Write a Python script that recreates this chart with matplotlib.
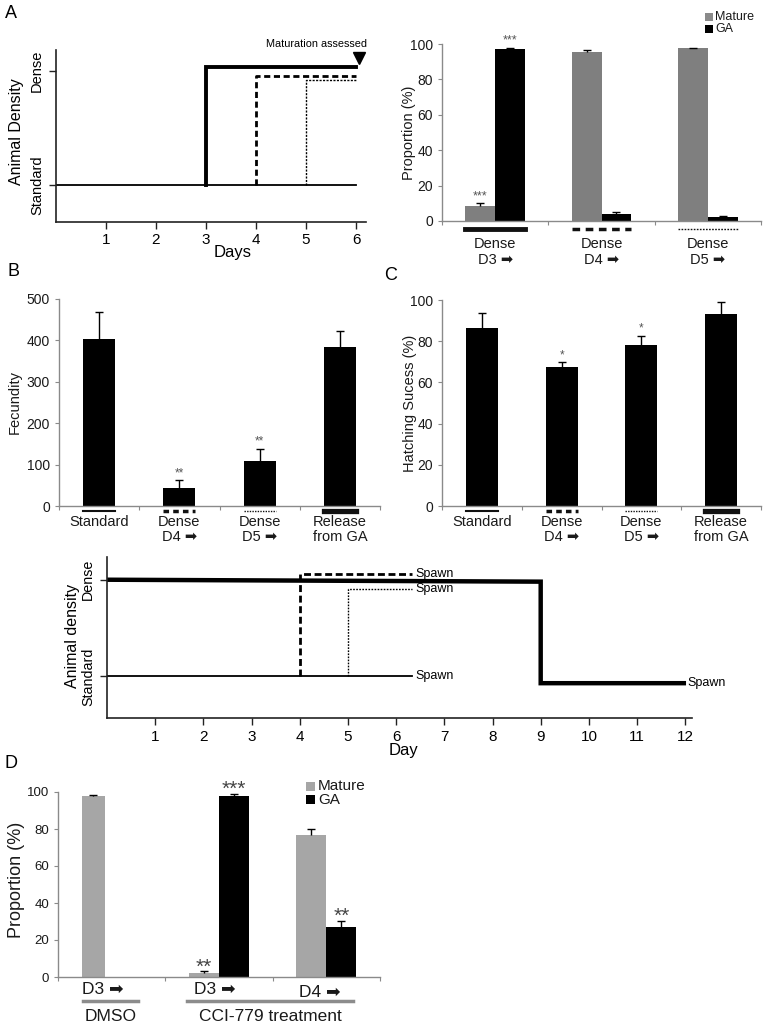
import numpy as np
import matplotlib
matplotlib.use("Agg")
import matplotlib.pyplot as plt
import matplotlib.transforms as mtransforms
from matplotlib.patches import Rectangle
from matplotlib import font_manager

# ---------------- DATA ----------------
# Panel A timeline
a_days = [1, 2, 3, 4, 5, 6]
a_std_x = [0, 6]; a_std_y = [0, 0]
a_d3_x = [3, 3, 6]; a_d3_y = [0, 1.035, 1.035]
a_d4_x = [4, 4, 6]; a_d4_y = [0, 0.95, 0.95]
a_d5_x = [5, 5, 6]; a_d5_y = [0, 0.92, 0.92]

# Panel A bars
a_groups = ["Dense\nD3 \u27a1", "Dense\nD4 \u27a1", "Dense\nD5 \u27a1"]
a_mature = [8.6, 95.6, 97.6]
a_mature_err = [1.4, 0.9, 0.4]
a_ga = [97.0, 4.0, 2.1]
a_ga_err = [1.0, 1.0, 0.7]
a_mature_stars = ["***", "", ""]
a_ga_stars = ["***", "", ""]

# Panel B
bc_groups = ["Standard", "Dense\nD4 \u27a1", "Dense\nD5 \u27a1", "Release\nfrom GA"]
b_fecundity = [403, 44, 109, 383]
b_err = [66, 18, 29, 39]
b_stars = ["", "**", "**", ""]

# Panel C
c_hatch = [86.2, 67.3, 78.1, 93.2]
c_err = [7.3, 2.4, 4.5, 5.8]
c_stars = ["", "*", "*", ""]

# Timeline B/C
t_days = list(range(1, 13))
t_release_x = [0, 9, 9, 11.97]; t_release_y = [1.0, 0.98, -0.07, -0.07]
t_std_x = [0, 6.33]; t_std_y = [0, 0]
t_d4_x = [4, 4, 6.33]; t_d4_y = [0, 1.06, 1.06]
t_d5_x = [5, 5, 6.33]; t_d5_y = [0, 0.9, 0.9]

# Panel D
d_groups = ["D3 \u27a1", "D3 \u27a1", "D4 \u27a1"]
d_mature = [98, 2, 77]
d_mature_err = [0.4, 1.0, 3.0]
d_ga = [0, 98, 27]
d_ga_err = [0, 1.0, 3.2]
d_mature_stars = ["", "**", ""]
d_ga_stars = ["", "***", "**"]

# ---------------- STYLE ----------------
names = {f.name for f in font_manager.fontManager.ttflist}
FONT = ["Liberation Sans", "DejaVu Sans"]
NARROW = ["Liberation Sans Narrow", "Liberation Sans", "DejaVu Sans"] if "Liberation Sans Narrow" in names else FONT
plt.rcParams["font.family"] = FONT

W, H = 766, 1025
fig = plt.figure(figsize=(W / 100, H / 100), dpi=100)

def add_ax(x0, x1, ytop, ybot):
    return fig.add_axes([x0 / W, 1 - ybot / H, (x1 - x0) / W, (ybot - ytop) / H])

def ftext(x, y, s, **kw):
    kw.setdefault("ha", "center"); kw.setdefault("va", "center")
    return fig.text(x / W, 1 - y / H, s, **kw)

def fsquare(x, y, size, color):
    fig.add_artist(Rectangle(((x - size / 2) / W, 1 - (y + size / 2) / H), size / W, size / H,
                             transform=fig.transFigure, color=color, lw=0))

GRAY_SPINE = "#8a8a8a"
TXT = "#1a1a1a"

def style_timeline(ax):
    for s in ["top", "right"]:
        ax.spines[s].set_visible(False)
    for s in ["left", "bottom"]:
        ax.spines[s].set_linewidth(1.2)
        ax.spines[s].set_color("#222")
    ax.tick_params(axis="both", direction="out", length=5, width=1, color="#222")

def style_bar(ax, n):
    for s in ["top", "right"]:
        ax.spines[s].set_visible(False)
    for s in ["left", "bottom"]:
        ax.spines[s].set_color(GRAY_SPINE)
        ax.spines[s].set_linewidth(1)
    ax.set_xlim(-0.5, n - 0.5)
    ax.set_xticks(np.arange(n + 1) - 0.5)
    ax.set_xticklabels([])
    ax.tick_params(axis="x", direction="out", length=3, color=GRAY_SPINE)
    ax.tick_params(axis="y", direction="out", length=3, color=GRAY_SPINE, labelcolor=TXT)

def errs(ax, x, v, e):
    x = np.asarray(x, float); v = np.asarray(v, float); e = np.asarray(e, float)
    m = e > 0
    ax.vlines(x[m], v[m], v[m] + e[m], color="black", lw=1, zorder=3)
    ax.plot(x[m], v[m] + e[m], ls="none", marker="_", ms=6, mew=1, color="black", zorder=3)

def stars(ax, x, v, e, labels, fs, color="#555"):
    for xi, vi, ei, s in zip(x, v, e, labels):
        if s:
            ax.annotate(s, (xi, vi + ei), xytext=(0, 8.0 - 0.58 * fs), textcoords="offset points",
                        ha="center", va="baseline", fontsize=fs, color=color, annotation_clip=False)

# ---------------- PANEL A (timeline) ----------------
ax = add_ax(56, 366, 50, 222)
style_timeline(ax)
ax.set_xlim(0, 6.2)
ax.set_ylim(-0.32, 1.18)
ax.plot(a_std_x, a_std_y, color="black", lw=1.3)
ax.plot(a_d3_x, a_d3_y, color="black", lw=2.8, solid_joinstyle="miter")
ax.plot(a_d4_x, a_d4_y, color="black", lw=2.0, ls=(0, (2.2, 1.3)))
ax.plot(a_d5_x, a_d5_y, color="black", lw=1.0, ls=(0, (1.5, 1)))
ax.plot([6.05], [1.11], marker="v", ms=9, color="black", clip_on=False)
ax.text(5.22, 1.235, "Maturation assessed", family=NARROW, fontsize=9.5 if NARROW != FONT else 7.8,
        ha="center", va="center", clip_on=False)
ax.set_xticks(a_days)
ax.set_xticklabels([str(d) for d in a_days], fontsize=11)
ax.set_yticks([0, 1])
ax.set_yticklabels(["Standard", "Dense"], rotation=90, va="center", fontsize=10.5)
ax.tick_params(axis="x", pad=3)
ftext(233, 252, "Days", fontsize=12)
ftext(17, 132, "Animal Density", rotation=90, fontsize=11.5)

# ---------------- PANEL A (bars) ----------------
ax = add_ax(442, 761, 44, 221)
style_bar(ax, 3)
ax.set_ylim(0, 100)
ax.set_yticks(range(0, 101, 20))
ax.tick_params(axis="y", labelsize=10)
bw = 0.282
xa = np.arange(3)
ax.bar(xa - bw / 2, a_mature, bw, color="#7f7f7f", zorder=2)
ax.bar(xa + bw / 2, a_ga, bw, color="black", zorder=2)
errs(ax, xa - bw / 2, a_mature, a_mature_err)
errs(ax, xa + bw / 2, a_ga, a_ga_err)
stars(ax, xa - bw / 2, a_mature, a_mature_err, a_mature_stars, 9)
stars(ax, xa + bw / 2, a_ga, a_ga_err, a_ga_stars, 9)
tr = mtransforms.blended_transform_factory(ax.transData, ax.transAxes)
styles_a = [dict(lw=3.5, ls="-"), dict(lw=2.5, ls=(0, (2.2, 1.6))), dict(lw=1.0, ls=(0, (1.2, 1.0)))]
for i, lab in enumerate(a_groups):
    ax.plot([i - bw, i + bw], [-0.045, -0.045], transform=tr, clip_on=False, color="#111", **styles_a[i])
    ax.text(i, -0.175, lab, transform=tr, ha="center", va="center", fontsize=10.5,
            linespacing=1.15, color=TXT, family=FONT)
ftext(409, 133, "Proportion (%)", rotation=90, fontsize=10.5, color=TXT)
fsquare(709, 17, 8, "#8a8a8a")
fsquare(709, 29, 8, "black")
ftext(715, 17, "Mature", ha="left", fontsize=9, color=TXT)
ftext(715, 29, "GA", ha="left", fontsize=9, color=TXT)

# ---------------- PANEL B ----------------
bar_styles = [dict(lw=1.5, ls="-"), dict(lw=2.5, ls=(0, (1.6, 1.2))),
              dict(lw=1.0, ls=(0, (1.0, 0.9))), dict(lw=3.8, ls="-")]

def bc_bars(ax, vals, err, st, top):
    style_bar(ax, 4)
    x = np.arange(4)
    ax.bar(x, vals, 0.4, color="black", zorder=2)
    errs(ax, x, vals, err)
    stars(ax, x, vals, err, st, 8.5)
    tr = mtransforms.blended_transform_factory(ax.transData, ax.transAxes)
    for i, lab in enumerate(bc_groups):
        ax.plot([i - 0.2, i + 0.2], [-0.026, -0.026], transform=tr, clip_on=False, color="#111", **bar_styles[i])
        ax.text(i, -0.045, lab, transform=tr, ha="center", va="top", fontsize=10.5,
                linespacing=1.1, color=TXT, family=FONT)
    ax.tick_params(axis="y", labelsize=10)

ax = add_ax(59, 380, 299, 506)
ax.set_ylim(0, 500)
ax.set_yticks(range(0, 501, 100))
bc_bars(ax, b_fecundity, b_err, b_stars, 500)
ftext(15, 402, "Fecundity", rotation=90, fontsize=10.5, color=TXT)

# ---------------- PANEL C ----------------
ax = add_ax(442, 761, 300, 506)
ax.set_ylim(0, 100)
ax.set_yticks(range(0, 101, 20))
bc_bars(ax, c_hatch, c_err, c_stars, 100)
ftext(410, 403, "Hatching Sucess (%)", rotation=90, fontsize=10.5, color=TXT)

# ---------------- TIMELINE B/C ----------------
ax = add_ax(107, 692, 557, 718)
style_timeline(ax)
ax.set_xlim(0, 12.14)
ax.set_ylim(-0.43, 1.235)
ax.plot(t_std_x, t_std_y, color="black", lw=1.3)
ax.plot(t_release_x, t_release_y, color="black", lw=3.2, solid_joinstyle="miter")
ax.plot(t_d4_x, t_d4_y, color="black", lw=2.0, ls=(0, (2.5, 1.3)))
ax.plot(t_d5_x, t_d5_y, color="black", lw=1.0, ls=(0, (1.2, 1.0)))
for xs, ys in [(t_d4_x, t_d4_y), (t_d5_x, t_d5_y), (t_std_x, t_std_y)]:
    ax.text(6.41, ys[-1], "Spawn", fontsize=9, ha="left", va="center")
ax.text(12.05, t_release_y[-1], "Spawn", fontsize=9, ha="left", va="center", clip_on=False)
ax.set_xticks(t_days)
ax.set_xticklabels([str(d) for d in t_days], fontsize=11)
ax.set_yticks([0, 1])
ax.set_yticklabels(["Standard", "Dense"], rotation=90, va="center", fontsize=10.3)
ftext(403, 750, "Day", fontsize=12)
ftext(73, 636, "Animal density", rotation=90, fontsize=11.5)

# ---------------- PANEL D ----------------
ax = add_ax(58, 380, 792, 977)
style_bar(ax, 3)
ax.set_ylim(0, 100)
ax.set_yticks(range(0, 101, 20))
ax.tick_params(axis="y", labelsize=9.5)
bw = 0.28
xd = np.arange(3)
d_mw = [0.215, bw, bw]
m_left = xd - bw
ax.bar(m_left, d_mature, d_mw, align="edge", color="#a6a6a6", zorder=2)
ax.bar(xd, d_ga, bw, align="edge", color="black", zorder=2)
m_cent = m_left + np.array(d_mw) / 2
errs(ax, m_cent, d_mature, d_mature_err)
errs(ax, xd + bw / 2, d_ga, d_ga_err)
stars(ax, m_cent, d_mature, d_mature_err, d_mature_stars, 15, color="#444")
stars(ax, xd + bw / 2, d_ga, d_ga_err, d_ga_stars, 15, color="#444")
tr = mtransforms.blended_transform_factory(ax.transData, ax.transAxes)
d_label_x = [-0.08, 0.96, 1.94]
d_label_y = [-0.065, -0.065, -0.082]
for lx, ly, lab in zip(d_label_x, d_label_y, d_groups):
    ax.text(lx, ly, lab, transform=tr, ha="center", va="center", fontsize=12.5, color=TXT, family=FONT)
ax.plot([-0.267, 0.246], [-0.13, -0.13], transform=tr, clip_on=False, color="#8c8c8c", lw=2.5)
ax.plot([0.70, 2.25], [-0.13, -0.13], transform=tr, clip_on=False, color="#8c8c8c", lw=2.5)
ax.text(-0.01, -0.216, "DMSO", transform=tr, ha="center", va="center", fontsize=12.5, color=TXT)
ax.text(1.476, -0.216, "CCI-779 treatment", transform=tr, ha="center", va="center", fontsize=12.5, color=TXT)
ftext(17, 880, "Proportion (%)", rotation=90, fontsize=13, color=TXT)
fsquare(310, 786, 9, "#a6a6a6")
fsquare(310, 799.5, 9, "black")
ftext(318, 786, "Mature", ha="left", fontsize=11, color=TXT)
ftext(318, 799.5, "GA", ha="left", fontsize=11, color=TXT)

# ---------------- PANEL LETTERS ----------------
ftext(11, 13, "A", fontsize=13)
ftext(13, 272, "B", fontsize=13)
ftext(391, 275, "C", fontsize=13)
ftext(11, 763, "D", fontsize=13)

fig.savefig("out.png", dpi=100)
